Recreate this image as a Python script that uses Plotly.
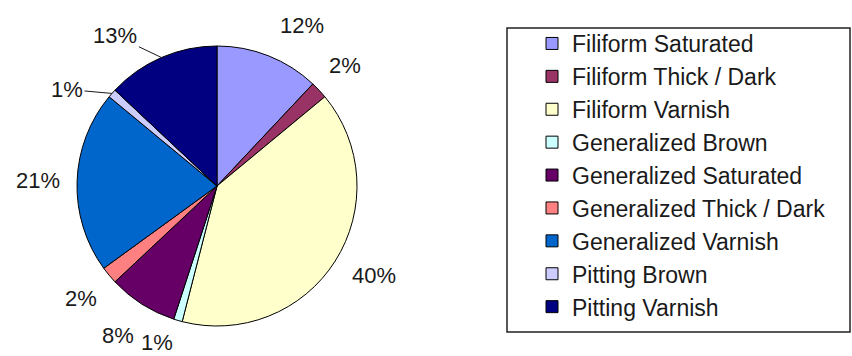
import math
import plotly.graph_objects as go

# Share of each weathering type (percent of total)
categories = [
    "Filiform Saturated",
    "Filiform Thick / Dark",
    "Filiform Varnish",
    "Generalized Brown",
    "Generalized Saturated",
    "Generalized Thick / Dark",
    "Generalized Varnish",
    "Pitting Brown",
    "Pitting Varnish",
]
shares = [12, 2, 40, 1, 8, 2, 21, 1, 13]
slice_colors = [
    "#9999FF", "#993366", "#FFFFCC", "#CCFFFF", "#660066",
    "#FF8080", "#0066CC", "#CCCCFF", "#000080",
]

W, H = 852, 356
FONT = "Liberation Sans, Arial, sans-serif"
LABEL_SIZE = 22

# Pie geometry in page pixels (margins are zero, so paper == page)
CX, CY, R = 217, 186, 140
GAP = 17

fig = go.Figure(
    go.Pie(
        labels=categories,
        values=shares,
        sort=False,
        direction="clockwise",
        rotation=0,
        marker=dict(colors=slice_colors, line=dict(color="#000000", width=1)),
        textinfo="none",
        domain=dict(x=[(CX - R) / W, (CX + R) / W],
                    y=[(H - CY - R) / H, (H - CY + R) / H]),
        hoverinfo="label+percent",
    )
)

# Percentage labels outside the pie, at each slice's mid angle.
# Labels in leader_offsets are pulled aside and tied back with a line;
# label_nudge gives small pixel shifts to keep crowded labels apart.
leader_offsets = {7: (-45, -4), 8: (-46, -22)}
label_nudge = {0: (20, 3), 2: (4, -8), 3: (-12, -9), 4: (-5, 2)}

total = sum(shares)
cum = 0
for i, v in enumerate(shares):
    pct = round(100 * v / total)
    text = f"{pct}%"
    mid = 2 * math.pi * (cum + v / 2) / total
    cum += v
    ux, uy = math.sin(mid), -math.cos(mid)  # screen direction, y down
    tw = LABEL_SIZE * (0.556 * len(str(pct)) + 0.889)
    th = LABEL_SIZE
    common = dict(
        xref="paper", yref="paper", text=text,
        font=dict(family=FONT, size=LABEL_SIZE, color="#1a1a1a"),
        xanchor="center", yanchor="middle",
    )
    if i in leader_offsets:
        px, py = CX + R * ux, CY + R * uy
        ax, ay = leader_offsets[i]
        fig.add_annotation(
            x=px / W, y=1 - py / H, showarrow=True, arrowhead=0,
            arrowwidth=1, arrowcolor="#1a1a1a", ax=ax, ay=ay,
            standoff=0, startstandoff=0, **common,
        )
    else:
        dist = R + GAP + abs(ux) * tw / 2 + abs(uy) * th / 2
        dx, dy = label_nudge.get(i, (0, 0))
        px, py = CX + dist * ux + dx, CY + dist * uy + dy
        fig.add_annotation(x=px / W, y=1 - py / H, showarrow=False, **common)

# Frame around the legend
fig.add_shape(
    type="rect", xref="paper", yref="paper",
    x0=507 / W, x1=850 / W, y0=1 - 332 / H, y1=1 - 28 / H,
    line=dict(color="#222222", width=1.5), fillcolor="rgba(0,0,0,0)",
)

fig.update_layout(
    width=W,
    height=H,
    margin=dict(l=0, r=0, t=0, b=0),
    paper_bgcolor="#ffffff",
    plot_bgcolor="#ffffff",
    showlegend=True,
    legend=dict(
        x=532 / W, y=1 - 22 / H, xanchor="left", yanchor="top",
        font=dict(family=FONT, size=23, color="#1a1a1a"),
        bgcolor="rgba(0,0,0,0)", borderwidth=0,
        traceorder="normal",
    ),
)

fig.write_html("out.html")
